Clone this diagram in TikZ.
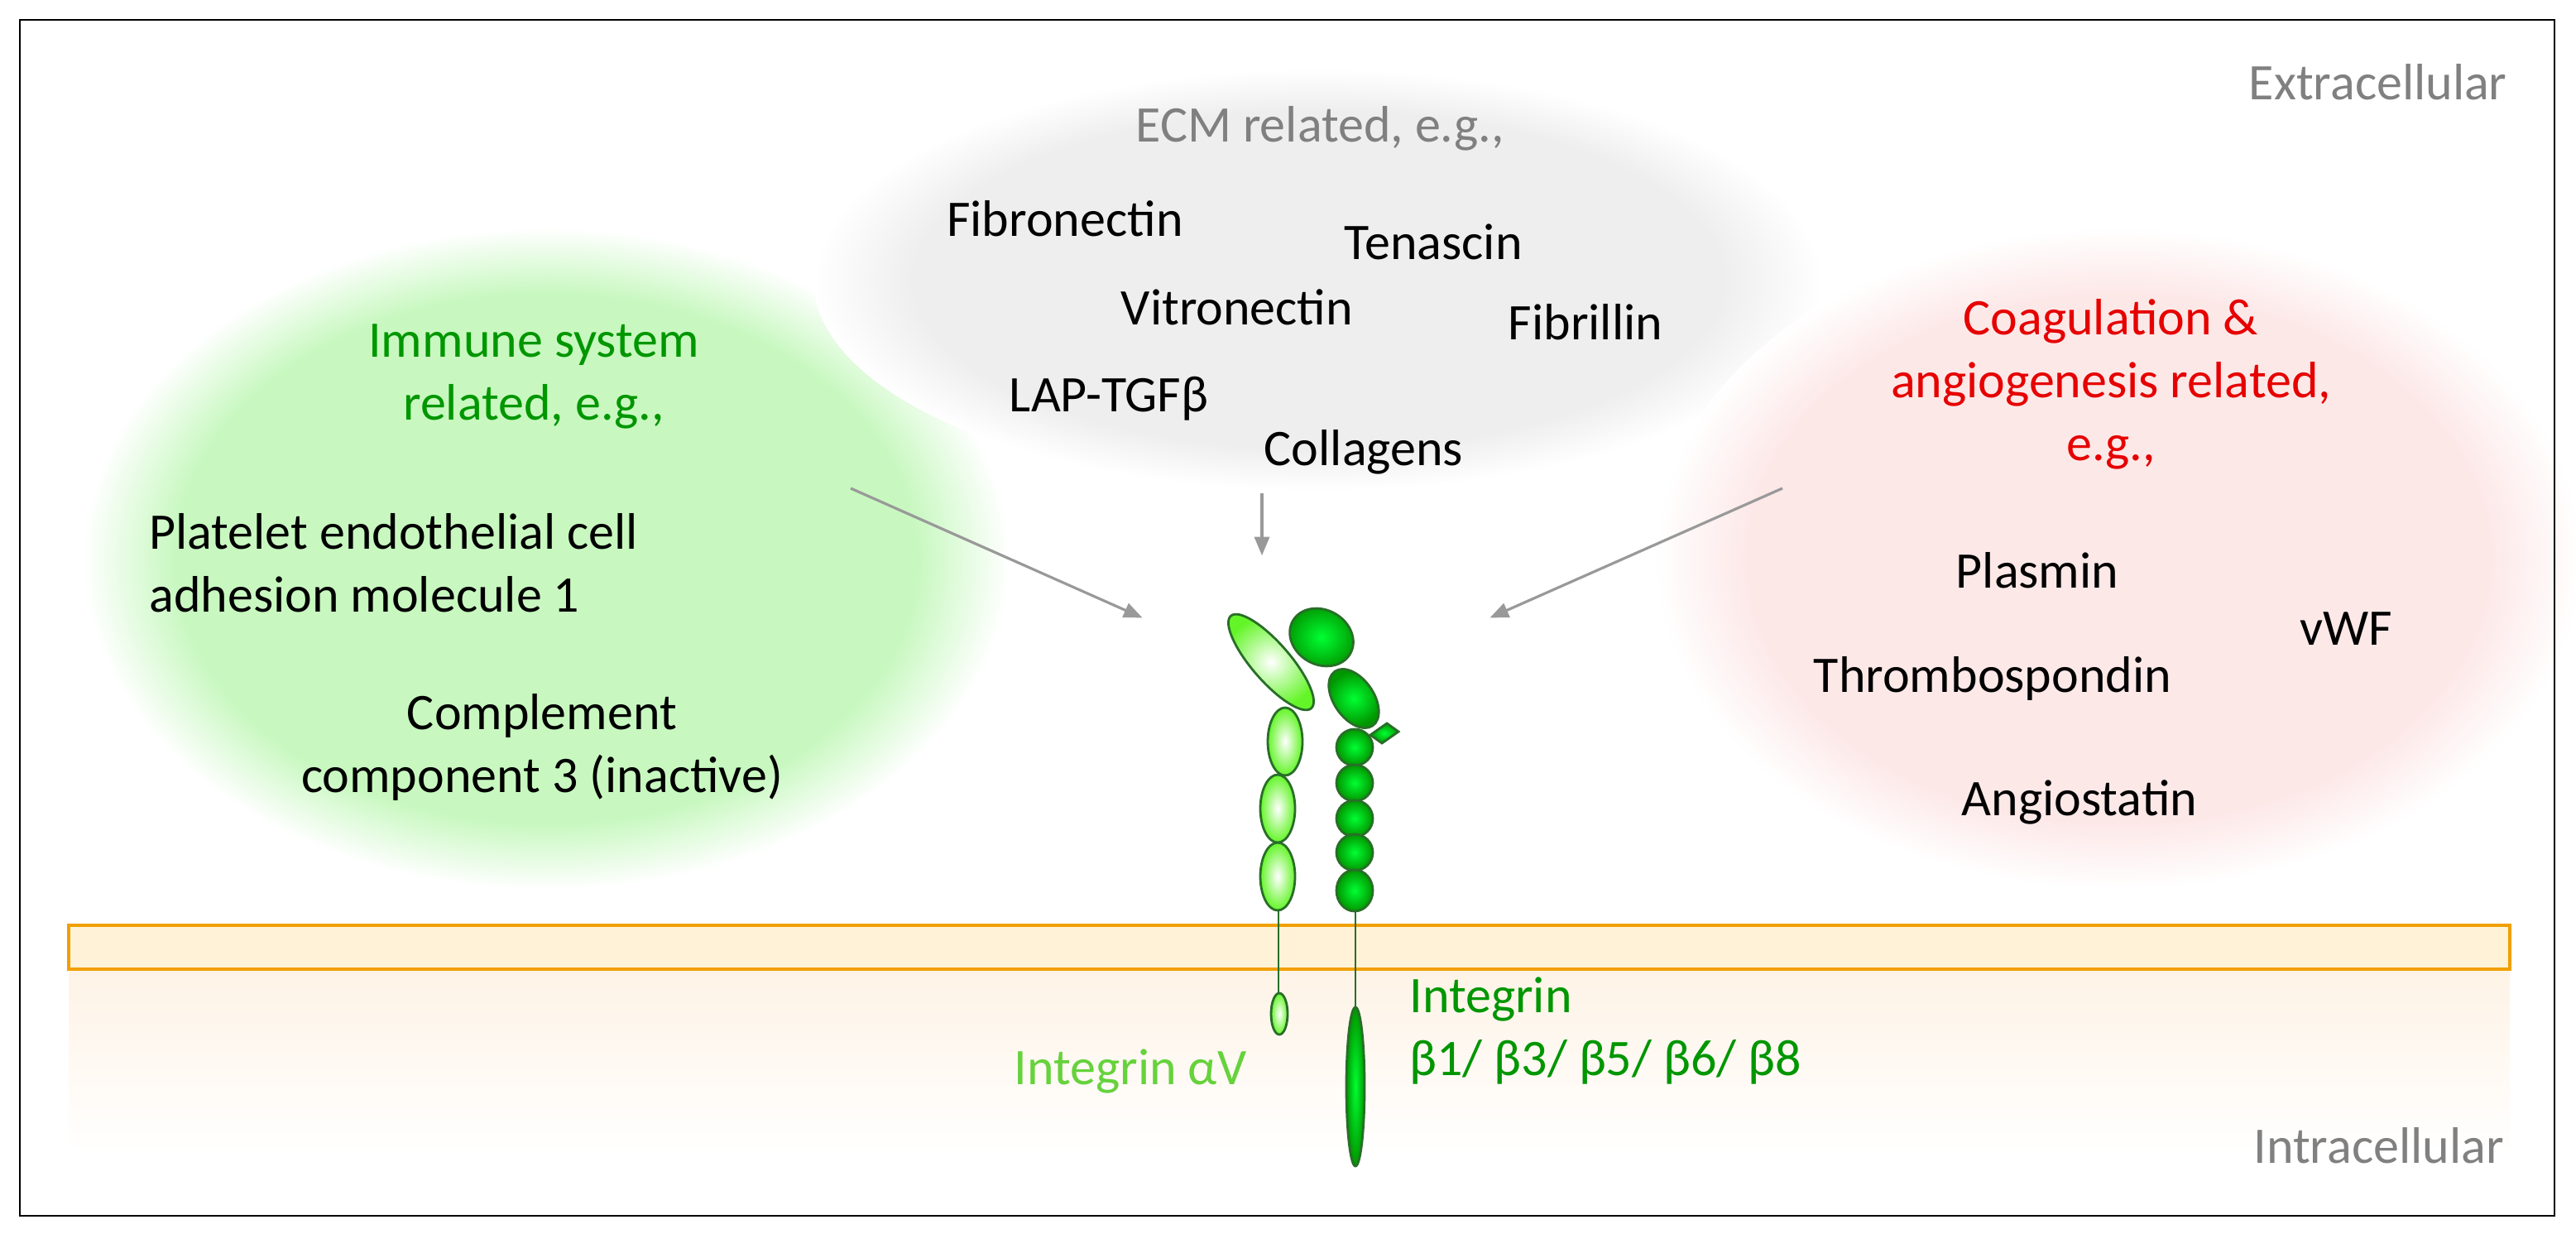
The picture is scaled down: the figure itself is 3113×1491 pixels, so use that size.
\documentclass[tikz,border=0pt]{standalone}
\usepackage{fontspec}
\setmainfont{Carlito}
\usetikzlibrary{positioning,arrows,shapes}
\definecolor{blobgreen}{RGB}{200,248,192}
\definecolor{blobgray}{RGB}{238,238,238}
\definecolor{blobred}{RGB}{253,232,232}
\definecolor{txtgreen}{RGB}{0,150,0}
\definecolor{txtlight}{RGB}{102,210,60}
\definecolor{txtred}{RGB}{230,0,0}
\definecolor{txtgray}{RGB}{128,128,128}
\definecolor{membr}{RGB}{240,160,0}
\definecolor{membrfill}{RGB}{255,242,214}
\definecolor{cytofill}{RGB}{254,243,230}
\definecolor{protline}{RGB}{40,110,40}
\definecolor{alphaout}{RGB}{100,245,40}
\definecolor{betain}{RGB}{0,255,50}
\definecolor{betaout}{RGB}{0,150,0}
\pgfdeclareradialshading{softgreen}{\pgfpoint{0bp}{0bp}}{color(0bp)=(blobgreen); color(20bp)=(blobgreen); color(25bp)=(white); color(50bp)=(white)}
\pgfdeclareradialshading{softgray}{\pgfpoint{0bp}{0bp}}{color(0bp)=(blobgray); color(20bp)=(blobgray); color(25bp)=(white); color(50bp)=(white)}
\pgfdeclareradialshading{softred}{\pgfpoint{0bp}{0bp}}{color(0bp)=(blobred); color(20bp)=(blobred); color(25bp)=(white); color(50bp)=(white)}

\begin{document}
\begin{tikzpicture}[x=0.5pt,y=-0.5pt,
    lbl/.style    = {font=\fontsize{31}{36}\selectfont, inner sep=0pt, align=center},
    alpha/.style  = {draw=protline, line width=1.4pt, inner color=white, outer color=alphaout},
    beta/.style   = {draw=protline, line width=1.4pt, inner color=betain, outer color=betaout},
    stem/.style   = {draw=protline, line width=1.4pt},
    pointer/.style = {->, >=triangle 45, draw=txtgray!80, line width=1.6pt, shorten >=2pt}]
  \useasboundingbox (0,0) rectangle (3113,1491);

  % background regions
  \shade[shading=softgreen] (660,675) ellipse [x radius=560, y radius=400];
  \shade[shading=softgray] (1593,338) ellipse [x radius=610, y radius=255];
  \shade[shading=softred] (2560,675) ellipse [x radius=560, y radius=400];
  \shade[top color=cytofill, bottom color=white] (83,1171) rectangle (3033,1395);
  \draw[membr, fill=membrfill, line width=2pt] (83,1118) rectangle (3033,1171);

  % texts
  \node[lbl, text=txtgray, anchor=east] (extra) at (3030,99) {Extracellular};
  \node[lbl, text=txtgray, anchor=east] (intra) at (3026,1384) {Intracellular};
  \node[lbl, text=txtgray] (ecm) at (1595,155) {ECM related, e.g.,};
  \node[lbl] (fibro) at (1287,264) {Fibronectin};
  \node[lbl] (tena) at (1732,292) {Tenascin};
  \node[lbl] (vitro) at (1495,371) {Vitronectin};
  \node[lbl] (fibri) at (1916,389) {Fibrillin};
  \node[lbl] (lap) at (1340,482) {LAP-TGFβ};
  \node[lbl] (coll) at (1648,546) {Collagens};
  \node[lbl, text=txtgreen] (immune) at (645,455) {Immune system\\[2pt]related, e.g.,};
  \node[lbl, anchor=west, align=left] (pecam) at (180,680) {Platelet endothelial cell\\[2pt]adhesion molecule 1};
  \node[lbl] (c3) at (655,903) {Complement\\[2pt]component 3 (inactive)};
  \node[lbl, text=txtred] (coag) at (2551,464) {Coagulation \&\\[2pt]angiogenesis related,\\[2pt]e.g.,};
  \node[lbl] (plas) at (2462,689) {Plasmin};
  \node[lbl] (vwf) at (2835,760) {vWF};
  \node[lbl] (thromb) at (2408,820) {Thrombospondin};
  \node[lbl] (angio) at (2513,969) {Angiostatin};
  \node[lbl, text=txtlight] (alv) at (1366,1294) {Integrin αV};
  \node[lbl, text=txtgreen, anchor=west, align=left] (intb) at (1703,1246) {Integrin\\[2pt]β1/ β3/ β5/ β6/ β8};

  % pointers
  \coordinate (a1) at (1028,590);
  \coordinate (b1) at (1384,748);
  \coordinate (a2) at (1525,596);
  \coordinate (b2) at (1525,675);
  \coordinate (a3) at (2154,590);
  \coordinate (b3) at (1797,748);
  \draw[pointer] (a1) -- (b1);
  \draw[pointer] (a2) -- (b2);
  \draw[pointer] (a3) -- (b3);

  % integrin alpha chain
  \draw[stem] (1545,1090) -- (1545,1205);
  \draw[alpha] (1546,1225) ellipse [x radius=10, y radius=25];
  \draw[alpha] (1544,1059) ellipse [x radius=21, y radius=41];
  \draw[alpha] (1544,977) ellipse [x radius=21, y radius=41];
  \draw[alpha] (1553,896) ellipse [x radius=21, y radius=41];
  \draw[alpha, rotate around={-49:(1536,800)}] (1536,800) ellipse [x radius=74, y radius=23];

  % integrin beta chain
  \draw[stem] (1638,1090) -- (1638,1220);
  \draw[beta] (1638,1313) ellipse [x radius=11, y radius=96];
  \draw[beta] (1656,888) -- (1676,874) -- (1690,884) -- (1670,898) -- cycle;
  \foreach \yy in {903,946,989,1030} {
    \draw[beta] (1637,\yy) ellipse [x radius=22, y radius=22];
  }
  \draw[beta] (1637,1076) ellipse [x radius=22, y radius=25];
  \draw[beta, rotate around={-55:(1636,844)}] (1636,844) ellipse [x radius=40, y radius=24];
  \draw[beta, rotate around={-30:(1597,770)}] (1597,770) ellipse [x radius=40, y radius=33];

  % frame
  \draw[line width=1pt] (24,24) rectangle (3087,1469);
\end{tikzpicture}
\end{document}
